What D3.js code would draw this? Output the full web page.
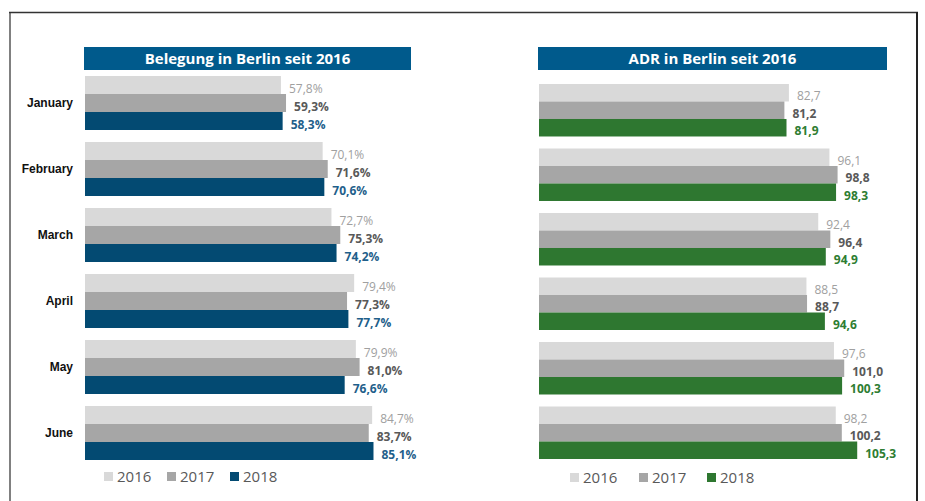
<!DOCTYPE html>
<html>
<head>
<meta charset="utf-8">
<script src="https://cdn.jsdelivr.net/npm/d3@7"></script>
<style>
	body { margin: 0; background: #fff; }
	svg { display: block; }
</style>
</head>
<body>
<script>
var months = ["January", "February", "March", "April", "May", "June"];
var years = ["2016", "2017", "2018"];

// Belegung (occupancy, %)
var occ2016 = [57.8, 70.1, 72.7, 79.4, 79.9, 84.7];
var occ2017 = [59.3, 71.6, 75.3, 77.3, 81.0, 83.7];
var occ2018 = [58.3, 70.6, 74.2, 77.7, 76.6, 85.1];

// ADR (EUR)
var adr2016 = [82.7, 96.1, 92.4, 88.5, 97.6, 98.2];
var adr2017 = [81.2, 98.8, 96.4, 88.7, 101.0, 100.2];
var adr2018 = [81.9, 98.3, 94.9, 94.6, 100.3, 105.3];

var w = 925;
var h = 501;

var svg = d3.select("body")
			.append("svg")
			.attr("width", w)
			.attr("height", h);

// frame
svg.append("line")
	.attr("x1", 10).attr("x2", 10).attr("y1", 12).attr("y2", h)
	.attr("stroke", "#808080").attr("stroke-width", 2);
svg.append("line")
	.attr("x1", 9).attr("x2", 918).attr("y1", 12.5).attr("y2", 12.5)
	.attr("stroke", "#333").attr("stroke-width", 1.5);
svg.append("line")
	.attr("x1", 917).attr("x2", 917).attr("y1", 12).attr("y2", h)
	.attr("stroke", "#222").attr("stroke-width", 2);

function panel(opt){
	var rows = months.map(function(m, i){
		return {month: m, values: years.map(function(y, j){ return {year: y, v: opt.series[j][i]}; })};
	});

	var xScale = d3.scaleLinear()
					.domain([0, 100])
					.range([opt.x0, opt.x0 + opt.k * 100]);

	var yScale = d3.scaleBand()
					.domain(months)
					.range([opt.top, opt.bottom])
					.paddingInner(opt.pad)
					.paddingOuter(0);

	var yInner = d3.scaleBand()
					.domain(years)
					.range([0, yScale.bandwidth()]);

	var colors = ["#d9d9d9", "#a6a6a6", opt.color];
	var labelColors = ["#a0a0a0", "#595959", opt.labelColor];
	var fmt = d3.format(".1f");

	// title bar
	svg.append("rect")
		.attr("x", opt.titleX)
		.attr("y", 47)
		.attr("width", opt.titleW)
		.attr("height", 23)
		.attr("fill", "#005a8c");
	svg.append("text")
		.attr("x", opt.titleX + opt.titleW / 2)
		.attr("y", 64)
		.text(opt.title)
		.attr("text-anchor", "middle")
		.attr("font-family", "Open Sans")
		.attr("font-weight", "bold")
		.attr("font-size", 15)
		.attr("fill", "white");

	var g = svg.selectAll(".grp-" + opt.id)
		.data(rows)
		.enter()
		.append("g")
		.attr("class", "grp-" + opt.id)
		.attr("transform", function(d){ return "translate(0," + yScale(d.month) + ")"; });

	g.selectAll("rect")
		.data(function(d){ return d.values; })
		.enter()
		.append("rect")
		.attr("x", xScale(0))
		.attr("y", function(d){ return yInner(d.year); })
		.attr("width", function(d){ return xScale(d.v) - xScale(0); })
		.attr("height", yInner.bandwidth())
		.attr("fill", function(d, j){ return colors[j]; });

	g.selectAll("text.val")
		.data(function(d){ return d.values; })
		.enter()
		.append("text")
		.attr("class", "val")
		.attr("x", function(d){ return xScale(d.v) + 8; })
		.attr("y", function(d){ return yInner(d.year) + yInner.bandwidth() / 2 + 3; })
		.attr("dominant-baseline", "central")
		.text(function(d){ return fmt(d.v).replace(".", ",") + opt.suffix; })
		.attr("font-family", "Open Sans")
		.attr("font-size", 12)
		.attr("font-weight", function(d, j){ return j === 0 ? "normal" : "bold"; })
		.attr("fill", function(d, j){ return labelColors[j]; });

	if (opt.showMonths) {
		g.append("text")
			.attr("x", 73)
			.attr("y", yScale.bandwidth() / 2)
			.attr("dominant-baseline", "central")
			.attr("text-anchor", "end")
			.text(function(d){ return d.month; })
			.attr("font-family", "Liberation Sans, Arial")
			.attr("font-weight", "bold")
			.attr("font-size", 12)
			.attr("fill", "#111");
	}

	// legend
	var lg = svg.selectAll(".lg-" + opt.id)
		.data(years)
		.enter()
		.append("g")
		.attr("class", "lg-" + opt.id)
		.attr("transform", function(d, j){ return "translate(" + opt.legendX[j] + "," + opt.legendY + ")"; });
	lg.append("rect")
		.attr("width", 9)
		.attr("height", 9)
		.attr("fill", function(d, j){ return colors[j]; });
	lg.append("text")
		.attr("x", 13)
		.attr("y", 10)
		.text(function(d){ return d; })
		.attr("font-family", "Open Sans")
		.attr("font-size", 15)
		.attr("fill", "#595959");
}

panel({
	id: "occ",
	title: "Belegung in Berlin seit 2016",
	titleX: 84, titleW: 327,
	x0: 85, k: 3.39,
	top: 76, bottom: 460, pad: 12 / 66,
	series: [occ2016, occ2017, occ2018],
	color: "#034a72", labelColor: "#1f5f8b",
	suffix: "%",
	showMonths: true,
	legendX: [104, 167, 230], legendY: 472
});

panel({
	id: "adr",
	title: "ADR in Berlin seit 2016",
	titleX: 538, titleW: 349,
	x0: 539, k: 3.022,
	top: 84, bottom: 459, pad: 12 / 64.4,
	series: [adr2016, adr2017, adr2018],
	color: "#2e7730", labelColor: "#2e7d32",
	suffix: "",
	showMonths: false,
	legendX: [570, 639, 707], legendY: 473
});
</script>
</body>
</html>
